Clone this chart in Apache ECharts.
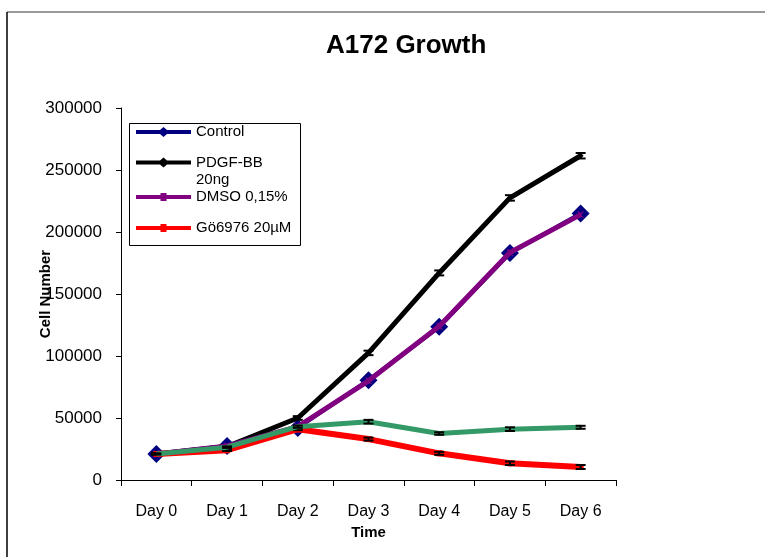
<!DOCTYPE html>
<html>
<head>
<meta charset="utf-8">
<title>A172 Growth</title>
<script src="https://cdn.jsdelivr.net/npm/echarts@6/dist/echarts.min.js"></script>
<style>
  html, body { margin: 0; padding: 0; background: #fff; }
  #chart { width: 765px; height: 557px; }
</style>
</head>
<body>
<div id="chart"></div>
<script>
// Time points and cell counts per treatment
const days = ['Day 0', 'Day 1', 'Day 2', 'Day 3', 'Day 4', 'Day 5', 'Day 6'];
const yTicks = [0, 50000, 100000, 150000, 200000, 250000, 300000];

const control = [21000, 27500, 42000, 80500, 123500, 183000, 215000];
const pdgf    = [21000, 27000, 50000, 102500, 167000, 227500, 261500];
const dmso    = [21000, 27500, 43000, 80000, 124000, 183500, 214000];
const go6976  = [21000, 24000, 41000, 33000, 21500, 13500, 10500];
const extra   = [21000, 26500, 43000, 47000, 37500, 41000, 42500];

// Standard deviations (small caps drawn on the curves)
const pdgfErr  = [600, 800, 1500, 1800, 2000, 2200, 2200];
const goErr    = [500, 600, 800, 1200, 1200, 1400, 1600];
const extraErr = [500, 600, 900, 1500, 1000, 1500, 1200];

const FONT = '"Liberation Sans", Arial, sans-serif';

function errorSeries(values, errs, z) {
  return {
    type: 'custom',
    z: z,
    silent: true,
    data: values.map((v, i) => [i, v, errs[i]]),
    renderItem: function (params, api) {
      const i = api.value(0), v = api.value(1), e = api.value(2);
      const top = api.coord([i, v + e]);
      const bot = api.coord([i, v - e]);
      const hw = 5;
      const style = { stroke: '#000', lineWidth: 2 };
      return {
        type: 'group',
        children: [
          { type: 'line', shape: { x1: top[0], y1: top[1], x2: bot[0], y2: bot[1] }, style: style },
          { type: 'line', shape: { x1: top[0] - hw, y1: top[1], x2: top[0] + hw, y2: top[1] }, style: style },
          { type: 'line', shape: { x1: bot[0] - hw, y1: bot[1], x2: bot[0] + hw, y2: bot[1] }, style: style }
        ]
      };
    }
  };
}

// Legend glyphs: thick line with a small marker in the middle
const ICON_DIAMOND = 'path://M0,3 L24,3 L27.5,0 L31,3 L55,3 L55,7 L31,7 L27.5,10 L24,7 L0,7 Z';
const ICON_BOX = 'path://M0,2 L55,2 L55,6 L0,6 Z M24.5,0 L30.5,0 L30.5,8 L24.5,8 Z';

function legendAt(name, top, icon, iconH, text, lineHeight) {
  return {
    data: [{ name: name, icon: icon }],
    left: 136,
    top: top,
    orient: 'vertical',
    padding: 0,
    itemWidth: 55,
    itemHeight: iconH,
    symbolKeepAspect: false,
    selectedMode: false,
    formatter: text ? () => text : undefined,
    textStyle: {
      fontFamily: FONT,
      fontSize: 15,
      color: '#000',
      lineHeight: lineHeight || 16
    }
  };
}

const chart = echarts.init(document.getElementById('chart'), null, { renderer: 'canvas' });

chart.setOption({
  animation: false,
  backgroundColor: '#fff',
  title: {
    text: 'A172 Growth',
    left: 326,
    top: 33,
    padding: 0,
    textStyle: { fontFamily: FONT, fontSize: 26, fontWeight: 'bold', color: '#000' }
  },
  graphic: [
    { type: 'line', shape: { x1: 7, y1: 12, x2: 765, y2: 12 }, style: { stroke: '#777', lineWidth: 1.5 } },
    { type: 'line', shape: { x1: 7, y1: 12, x2: 7, y2: 557 }, style: { stroke: '#000', lineWidth: 1.5 } },
    { type: 'rect', z: 1, shape: { x: 129.5, y: 123.5, width: 171, height: 122 },
      style: { fill: '#fff', stroke: '#000', lineWidth: 1 } }
  ],
  legend: [
    legendAt('Control', 124, ICON_DIAMOND, 10),
    legendAt('PDGF-BB', 137, ICON_DIAMOND, 10, '\nPDGF-BB\n20ng', 17),
    legendAt('DMSO 0,15%', 189, ICON_BOX, 8),
    legendAt('Gö6976 20µM', 220, ICON_BOX, 8)
  ],
  grid: { left: 121, right: 149, top: 108, bottom: 77, containLabel: false },
  xAxis: {
    type: 'category',
    data: days,
    boundaryGap: true,
    name: 'Time',
    nameLocation: 'middle',
    nameGap: 44,
    nameTextStyle: { fontFamily: FONT, fontSize: 15, fontWeight: 'bold', color: '#000' },
    axisLine: { lineStyle: { color: '#000', width: 1 } },
    axisTick: { show: true, inside: false, length: 6, alignWithLabel: false, lineStyle: { color: '#000' } },
    axisLabel: { fontFamily: FONT, fontSize: 16, color: '#000', margin: 24 },
    splitLine: { show: false }
  },
  yAxis: {
    type: 'value',
    min: yTicks[0],
    max: yTicks[yTicks.length - 1],
    interval: yTicks[1] - yTicks[0],
    name: 'Cell Number',
    nameLocation: 'middle',
    nameGap: 68,
    nameMoveOverlap: false,
    nameTextStyle: { fontFamily: FONT, fontSize: 15, fontWeight: 'bold', color: '#000' },
    axisLine: { show: true, lineStyle: { color: '#000', width: 1 } },
    axisTick: { show: true, inside: false, length: 5, lineStyle: { color: '#000' } },
    axisLabel: { fontFamily: FONT, fontSize: 17, color: '#000', margin: 19, formatter: (v) => String(v) },
    splitLine: { show: false }
  },
  series: [
    {
      name: 'Control', type: 'line', data: control, z: 3,
      symbol: 'diamond', symbolSize: 18,
      lineStyle: { color: '#000080', width: 4 },
      itemStyle: { color: '#000080' }
    },
    {
      name: 'PDGF-BB', type: 'line', data: pdgf, z: 4,
      symbol: 'diamond', symbolSize: 6,
      lineStyle: { color: '#000', width: 5 },
      itemStyle: { color: '#000' }
    },
    errorSeries(pdgf, pdgfErr, 5),
    {
      name: 'DMSO 0,15%', type: 'line', data: dmso, z: 6,
      symbol: 'path://M0,0 L2,0 L5,3 L8,0 L10,0 L6,5 L10,10 L8,10 L5,7 L2,10 L0,10 L4,5 Z',
      symbolSize: 7,
      lineStyle: { color: '#800080', width: 5 },
      itemStyle: { color: '#800080' }
    },
    {
      name: 'Gö6976 20µM', type: 'line', data: go6976, z: 7,
      symbol: 'rect', symbolSize: 6,
      lineStyle: { color: '#ff0000', width: 6 },
      itemStyle: { color: '#ff0000' }
    },
    errorSeries(go6976, goErr, 8),
    {
      name: '', type: 'line', data: extra, z: 9,
      symbol: 'none',
      lineStyle: { color: '#339966', width: 5 },
      itemStyle: { color: '#339966' }
    },
    errorSeries(extra, extraErr, 10)
  ]
});
</script>
</body>
</html>
